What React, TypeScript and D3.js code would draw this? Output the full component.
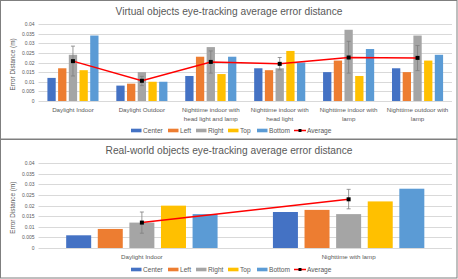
import React from "react";
import * as d3 from "d3";

const seriesNames = ["Center", "Left", "Right", "Top", "Bottom"];
const seriesColors = ["#4472C4", "#ED7D31", "#A5A5A5", "#FFC000", "#5B9BD5"];

const virtualCategories = [
  ["Daylight Indoor"],
  ["Daylight Outdoor"],
  ["Nighttime indoor with", "head light and lamp"],
  ["Nighttime indoor with", "head light"],
  ["Nighttime indoor with", "lamp"],
  ["Nighttime outdoor with", "lamp"],
];
const virtualCenter = [0.012, 0.008, 0.013, 0.017, 0.015, 0.017];
const virtualLeft = [0.017, 0.009, 0.023, 0.016, 0.021, 0.015];
const virtualRight = [0.024, 0.015, 0.028, 0.017, 0.037, 0.034];
const virtualTop = [0.016, 0.010, 0.014, 0.026, 0.013, 0.021];
const virtualBottom = [0.034, 0.010, 0.023, 0.020, 0.027, 0.024];
const virtualAverage = [0.0207, 0.0105, 0.0203, 0.0193, 0.0226, 0.0224];
const virtualErrLow = [0.013, 0.008, 0.0145, 0.0162, 0.0145, 0.0158];
const virtualErrHigh = [0.0285, 0.0128, 0.026, 0.0226, 0.031, 0.0288];

const realCategories = [["Daylight Indoor"], ["Nighttime with lamp"]];
const realCenter = [0.006, 0.017];
const realLeft = [0.009, 0.018];
const realRight = [0.012, 0.016];
const realTop = [0.020, 0.022];
const realBottom = [0.016, 0.028];
const realAverage = [0.012, 0.023];
const realErrLow = [0.007, 0.0185];
const realErrHigh = [0.017, 0.0277];

const yTicks = [0, 0.005, 0.01, 0.015, 0.02, 0.025, 0.03, 0.035, 0.04];
const tickLabels = ["0", "0.005", "0.01", "0.015", "0.02", "0.025", "0.03", "0.035", "0.04"];

const FONT = "'Liberation Sans', Arial, sans-serif";
const TEXT = "#595959";

type ChartProps = {
  y0: number;
  height: number;
  title: string;
  categories: string[][];
  series: number[][];
  average: number[];
  errLow: number[];
  errHigh: number[];
  plotTop: number;
  plotBottom: number;
  barWidth: number;
  barStep: number;
  labelY: number;
  legendY: number;
  titleY: number;
};

const legendX = [131, 168, 196, 228, 257];
const avgLegendX = 294;

function Chart(p: ChartProps) {
  const x = d3
    .scaleBand<number>()
    .domain(d3.range(p.categories.length))
    .range([38.5, 452]);
  const y = d3.scaleLinear().domain([0, 0.04]).range([p.plotBottom, p.plotTop]);
  const cx = (i: number) => (x(i) as number) + x.bandwidth() / 2;
  const line = d3
    .line<number>()
    .x((_, i) => cx(i))
    .y((d) => y(d));
  return (
    <g>
      <rect x={0.5} y={p.y0 + 0.5} width={456.5} height={p.height} fill="#fff" stroke="#7f7f7f" strokeWidth={1} />
      <text x={229} y={p.titleY} textAnchor="middle" dominantBaseline="central" fontFamily={FONT} fontSize={10.2} fill={TEXT}>
        {p.title}
      </text>
      {yTicks.map((t, i) => (
        <g key={i}>
          <line x1={38.5} x2={452} y1={Math.round(y(t)) + 0.5} y2={Math.round(y(t)) + 0.5} stroke="#d9d9d9" strokeWidth={1} />
          <text x={34.5} y={y(t)} textAnchor="end" dominantBaseline="central" fontFamily={FONT} fontSize={5} fill={TEXT}>
            {tickLabels[i]}
          </text>
        </g>
      ))}
      <text
        transform={`translate(12.5,${(p.plotTop + p.plotBottom) / 2 + 2}) rotate(-90)`}
        textAnchor="middle"
        dominantBaseline="central"
        fontFamily={FONT}
        fontSize={6.4}
        fill={TEXT}
      >
        Error Distance (m)
      </text>
      {p.categories.map((c, ci) =>
        p.series.map((s, si) => (
          <rect
            key={`${ci}-${si}`}
            x={cx(ci) + (si - 2) * p.barStep - p.barWidth / 2}
            y={y(s[ci])}
            width={p.barWidth}
            height={y(0) - y(s[ci])}
            fill={seriesColors[si]}
          />
        ))
      )}
      {p.categories.map((c, ci) =>
        c.map((l, li) => (
          <text key={`${ci}-${li}`} x={cx(ci)} y={p.labelY + li * 8.6} textAnchor="middle" dominantBaseline="central" fontFamily={FONT} fontSize={6.2} fill={TEXT}>
            {l}
          </text>
        ))
      )}
      <path d={line(p.average) || ""} fill="none" stroke="#ff0000" strokeWidth={1.5} />
      {p.average.map((a, i) => (
        <g key={i}>
          <line x1={cx(i)} x2={cx(i)} y1={y(p.errLow[i])} y2={y(p.errHigh[i])} stroke="#7f7f7f" strokeWidth={0.8} />
          <line x1={cx(i) - 2} x2={cx(i) + 2} y1={y(p.errLow[i])} y2={y(p.errLow[i])} stroke="#7f7f7f" strokeWidth={0.8} />
          <line x1={cx(i) - 2} x2={cx(i) + 2} y1={y(p.errHigh[i])} y2={y(p.errHigh[i])} stroke="#7f7f7f" strokeWidth={0.8} />
          <rect x={cx(i) - 2} y={y(a) - 2} width={4} height={4} fill="#000" />
        </g>
      ))}
      {seriesNames.map((n, i) => (
        <g key={n}>
          <rect x={legendX[i]} y={p.legendY - 1.8} width={10.5} height={3.6} fill={seriesColors[i]} />
          <text x={legendX[i] + 12} y={p.legendY} dominantBaseline="central" fontFamily={FONT} fontSize={6.6} fill={TEXT}>
            {n}
          </text>
        </g>
      ))}
      <line x1={avgLegendX} x2={avgLegendX + 12} y1={p.legendY} y2={p.legendY} stroke="#ff0000" strokeWidth={1.5} />
      <rect x={avgLegendX + 4.5} y={p.legendY - 1.5} width={3} height={3} fill="#000" />
      <text x={avgLegendX + 13} y={p.legendY} dominantBaseline="central" fontFamily={FONT} fontSize={6.6} fill={TEXT}>
        Average
      </text>
    </g>
  );
}

export default function App() {
  return (
    <svg width={458} height={279} style={{ position: "fixed", left: 0, top: 0, background: "#fff" }}>
      <Chart
        y0={0}
        height={138.5}
        title="Virtual objects eye-tracking average error distance"
        categories={virtualCategories}
        series={[virtualCenter, virtualLeft, virtualRight, virtualTop, virtualBottom]}
        average={virtualAverage}
        errLow={virtualErrLow}
        errHigh={virtualErrHigh}
        plotTop={24}
        plotBottom={101}
        barWidth={8.3}
        barStep={10.7}
        labelY={109.5}
        legendY={130.5}
        titleY={11}
      />
      <Chart
        y0={139}
        height={138.5}
        title="Real-world objects eye-tracking average error distance"
        categories={realCategories}
        series={[realCenter, realLeft, realRight, realTop, realBottom]}
        average={realAverage}
        errLow={realErrLow}
        errHigh={realErrHigh}
        plotTop={163.3}
        plotBottom={248}
        barWidth={25}
        barStep={31.6}
        labelY={256.5}
        legendY={269.5}
        titleY={150}
      />
    </svg>
  );
}
